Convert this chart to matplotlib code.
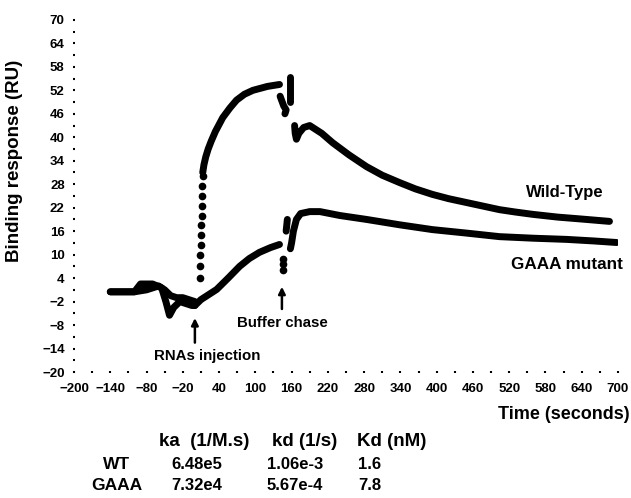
import numpy as np
import matplotlib.pyplot as plt

plt.rcParams['font.family'] = ['Liberation Sans', 'DejaVu Sans']
plt.rcParams['font.weight'] = 'bold'

# sensorgram traces (time in s, response in RU)
wt_base_t = [-140, -120, -100, -80, -60, -50, -40, -30, -20, -10, 0]
wt_base_y = [0.5, 0.5, 0.5, 1.0, 2.0, 1.0, -0.5, -1.0, -1.0, -1.5, -2.0]
gaaa_base_t = [-140, -120, -100, -90, -70, -55, -48, -42, -35, -25, -15, -5, 0]
gaaa_base_y = [0.5, 0.5, 0.5, 2.5, 2.5, 1.5, -2.0, -5.5, -3.5, -2.0, -2.5, -3.0, -3.0]

# sparse points during the fast rise after injection (WT)
wt_rise_t = [8, 9, 9, 10, 10, 10, 11, 11, 12, 12, 13]
wt_rise_y = [4, 7, 10, 12.5, 15, 17.5, 20, 22.5, 25, 27.5, 30]

wt_assoc_t = [13, 15, 18, 22, 27, 34, 46, 58, 69, 82, 96, 120, 140]
wt_assoc_y = [31, 33, 35, 37, 39, 41.5, 45, 47.5, 49.5, 51, 52, 53, 53.5]

# buffer chase artefacts
wt_jump1_t = [141, 147, 151, 149]
wt_jump1_y = [50.5, 48, 47, 46]
wt_jump2_t = [157, 157]
wt_jump2_y = [55.5, 49]

wt_dis_t = [165, 166, 168, 172, 180, 190, 210, 228, 255, 284, 310, 339, 365,
            393, 420, 450, 480, 504, 530, 559, 600, 640, 686]
wt_dis_y = [43, 41, 39.5, 41, 42.5, 43, 41, 38.6, 35.5, 32.5, 30.3, 28.4, 26.8,
            25.4, 24.3, 23.3, 22.3, 21.5, 20.9, 20.3, 19.6, 19.1, 18.5]

gaaa_assoc_t = [0, 10, 20, 36, 55, 74, 90, 107, 125, 140]
gaaa_assoc_y = [-3, -1.5, -0.5, 1.1, 4, 7, 9, 10.6, 11.8, 12.6]
gaaa_dip_t = [145, 145, 145]
gaaa_dip_y = [9, 7.5, 6.2]
gaaa_jump_t = [151, 153]
gaaa_jump_y = [16, 19]
gaaa_dis_t = [158, 160, 163, 168, 175, 190, 207, 240, 284, 340, 393, 450,
              504, 560, 615, 660, 698]
gaaa_dis_y = [11.5, 13, 16, 19, 20.5, 21, 21, 20, 19, 17.6, 16.4, 15.5,
              14.6, 14.2, 13.9, 13.5, 13.1]

x_ticks = np.arange(-200, 701, 60)
y_ticks = np.arange(-20, 71, 6)

table_cols = ['ka  (1/M.s)', 'kd (1/s)', 'Kd (nM)']
table_rows = ['WT', 'GAAA']
table_vals = [['6.48e5', '1.06e-3', '1.6'],
              ['7.32e4', '5.67e-4', '7.8']]

fig = plt.figure(figsize=(6.31, 4.98), dpi=100)
ax = fig.add_axes([0.1173, 0.253, 0.862, 0.707])

line_kw = dict(color='black', lw=5, solid_capstyle='round', solid_joinstyle='round')
for t, y in [(wt_base_t, wt_base_y), (gaaa_base_t, gaaa_base_y),
             (wt_assoc_t, wt_assoc_y), (wt_jump1_t, wt_jump1_y),
             (wt_jump2_t, wt_jump2_y), (wt_dis_t, wt_dis_y),
             (gaaa_assoc_t, gaaa_assoc_y), (gaaa_jump_t, gaaa_jump_y),
             (gaaa_dis_t, gaaa_dis_y)]:
    ax.plot(t, y, **line_kw)
ax.plot(wt_rise_t, wt_rise_y, 'o', color='black', ms=4.5)
ax.plot(gaaa_dip_t, gaaa_dip_y, 'o', color='black', ms=4.5)

ax.set_xlim(-200, 700)
ax.set_ylim(-20, 70)
ax.set_xticks(x_ticks)
ax.set_xticks(x_ticks[:-1] + 30, minor=True)
ax.set_yticks(y_ticks)
ax.set_yticks(y_ticks[:-1] + 3, minor=True)
for s in ax.spines.values():
    s.set_visible(False)
ax.tick_params(which='both', length=1.5, width=1.5, direction='inout')
ax.tick_params(axis='x', pad=7, labelsize=9.5)
ax.tick_params(axis='y', pad=6, labelsize=9.5)
for lab in ax.get_xticklabels() + ax.get_yticklabels():
    lab.set_fontweight('bold')

# annotations
arrow_kw = dict(arrowstyle='-|>', lw=1.8, color='black', mutation_scale=10)
ax.annotate('', xy=(0, -5.5), xytext=(0, -13.2), arrowprops=arrow_kw)
ax.text(20, -15.8, 'RNAs injection', ha='center', va='center', fontsize=10.8)
ax.annotate('', xy=(144, 2.5), xytext=(144, -4.6), arrowprops=arrow_kw)
ax.text(144, -7.5, 'Buffer chase', ha='center', va='center', fontsize=10.8)
ax.text(612, 26, 'Wild-Type', ha='center', va='center', fontsize=12)
ax.text(616, 7.5, 'GAAA mutant', ha='center', va='center', fontsize=12.3)

fig.text(630 / 631, 1 - 414 / 498, 'Time (seconds)', ha='right', va='center', fontsize=13)
fig.text(15 / 631, 1 - 161 / 498, 'Binding response (RU)', rotation=90,
         ha='center', va='center', fontsize=13.5)

# kinetics table
col_x = [204, 305, 392]
row_y = [464, 485]
for cx, name in zip(col_x, table_cols):
    fig.text(cx / 631, 1 - 441 / 498, name, ha='center', va='center', fontsize=13.5)
for ry, name, vals in zip(row_y, table_rows, table_vals):
    fig.text(117 / 631, 1 - ry / 498, name, ha='center', va='center', fontsize=12.5)
    for cx, v in zip([197, 295, 370], vals):
        fig.text(cx / 631, 1 - ry / 498, v, ha='center', va='center', fontsize=12)

fig.savefig('out.png', dpi=100)
